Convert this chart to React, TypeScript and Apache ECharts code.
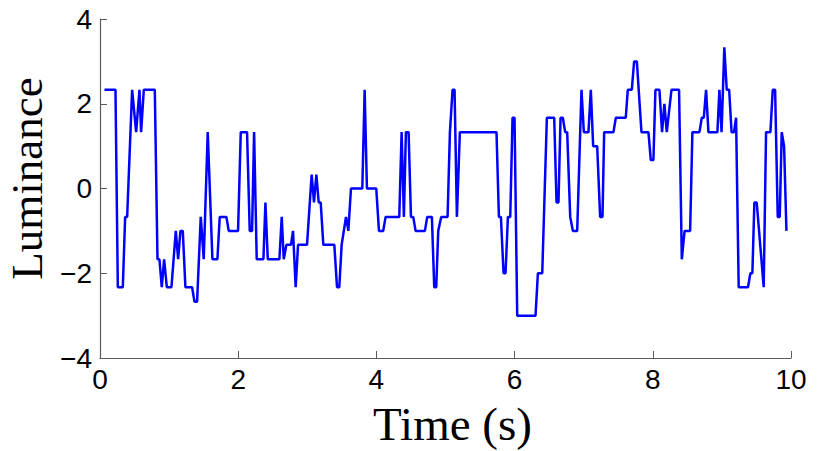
import React, { useEffect, useRef } from "react";
import * as echarts from "echarts";

const xTicks = [0, 2, 4, 6, 8, 10];
const yTicks = [-4, -2, 0, 2, 4];

const times = [
  0.065, 0.224, 0.258, 0.33, 0.364, 0.393, 0.465, 0.523, 0.571, 0.595, 0.634, 0.793, 0.832, 0.86, 0.894, 0.928, 0.967,
  1.034, 1.097, 1.131, 1.164, 1.198, 1.236, 1.333, 1.367, 1.405, 1.458, 1.501, 1.559, 1.627, 1.699, 1.733, 1.829, 1.863,
  1.998, 2.037, 2.128, 2.167, 2.201, 2.23, 2.268, 2.365, 2.394, 2.428,
  2.596, 2.63, 2.659, 2.697, 2.764, 2.793, 2.832, 2.866, 2.996, 3.063, 3.097, 3.131, 3.165, 3.194, 3.232, 3.391, 3.43,
  3.463, 3.497, 3.56, 3.594, 3.632, 3.796, 3.83, 3.863, 3.998, 4.037, 4.099, 4.133, 4.331, 4.365, 4.398, 4.427, 4.466,
  4.5, 4.533, 4.567, 4.702, 4.736, 4.803, 4.837,
  4.866, 4.895, 4.938, 5.03, 5.064, 5.102, 5.131, 5.165, 5.208, 5.738, 5.773, 5.802, 5.84, 5.869, 5.903, 5.937, 5.97,
  5.999, 6.038, 6.303, 6.337, 6.4, 6.467, 6.573, 6.607, 6.635, 6.665, 6.698, 6.732, 6.761, 6.805, 6.843, 6.906, 6.968,
  7.002, 7.069, 7.103, 7.137, 7.195, 7.238, 7.272,
  7.296, 7.431, 7.465, 7.609, 7.638, 7.696, 7.73, 7.769, 7.836, 7.937, 7.971, 8.009, 8.038, 8.096, 8.134, 8.168, 8.202,
  8.27, 8.38, 8.42, 8.46, 8.54, 8.573, 8.675, 8.709, 8.738, 8.771, 8.805, 8.935, 8.964, 8.995, 9.035, 9.07, 9.105, 9.14,
  9.176, 9.205, 9.243, 9.378, 9.412, 9.441, 9.47, 9.504, 9.605, 9.639, 9.702, 9.736, 9.77, 9.808, 9.837, 9.866, 9.9, 9.934,
];

const luminance = [
  2.33, 2.33, -2.33, -2.33, -0.67, -0.67, 2.33, 1.33, 2.33, 1.33, 2.33, 2.33, -1.67, -1.67, -2.33, -1.67, -2.33,
  -2.33, -1, -1.67, -1, -1, -2.33, -2.33, -2.67, -2.67, -0.67, -1.67, 1.33, -1.67, -1.67, -0.67, -0.67, -1,
  -1, 1.33, 1.33, -1, -1, 1.33, -1.67, -1.67, -0.33, -1.67,
  -1.67, -0.67, -1.67, -1.33, -1.33, -1, -2.33, -1.33, -1.33, 0.33, -0.33, 0.33, -0.33, -0.33, -1.33, -1.33, -2.33,
  -2.33, -1.33, -0.67, -1, 0, 0, 2.33, 0, 0, -1, -1, -0.67, -0.67, 1.33, -0.67, 1.33, 1.33,
  -0.67, -0.67, -1, -1, -0.67, -0.67, -2.33,
  -2.33, -1, -0.67, -0.67, 1.33, 2.33, 2.33, -0.67, 1.33, 1.33, -0.67, -0.67, -2, -2, -0.67, -0.67, 1.67,
  1.67, -3, -3, -2, -2, 1.67, 1.67, -0.33, -0.33, 1.67, 1.67, 1.33, 1.33, -0.67, -1, -1, 2.33,
  1.33, 1.33, 2.33, 1, 1, -0.67, -0.67,
  1.33, 1.33, 1.67, 1.67, 2.33, 2.33, 3, 3, 1.33, 1.33, 0.67, 0.67, 2.33, 2.33, 1.33, 2, 1.33,
  2.33, 2.33, -1.67, -1, -1, 1.33, 1.33, 1.67, 1.67, 2.33, 1.33, 1.33, 2.33, 1.33, 3.33, 2.33, 2.33, 1.33,
  1.33, 1.67, -2.33, -2.33, -2, -2, -0.33, -0.33, -2.33, 1.33, 1.33, 2.33, 2.33, -0.67, -0.67, 1.33, 1, -1,
];

const xTitle = "Time (s)";
const yTitle = "Luminance";

export default function App() {
  const ref = useRef<HTMLDivElement>(null);
  useEffect(() => {
    if (!ref.current) return;
    const chart = echarts.init(ref.current, undefined, { renderer: "svg" });
    const data = times.map((t, i) => [t, luminance[i]]);
    const axisColor = "#5a5a5a";
    chart.setOption({
      animation: false,
      backgroundColor: "#ffffff",
      grid: { left: 100, right: 28, top: 19, bottom: 93, outerBoundsMode: "none" },
      xAxis: {
        type: "value",
        min: xTicks[0],
        max: xTicks[xTicks.length - 1],
        interval: 2,
        name: xTitle,
        nameLocation: "middle",
        nameGap: 42,
        nameTextStyle: { fontFamily: "Liberation Serif", fontSize: 47, color: "#000", padding: [0, 0, 0, 14] },
        axisLine: { show: true, onZero: false, lineStyle: { color: axisColor, width: 1.2 } },
        axisTick: { show: true, inside: true, length: 7, lineStyle: { color: axisColor } },
        axisLabel: { margin: 7, fontFamily: "Liberation Sans", fontSize: 28, color: "#000" },
        splitLine: { show: false },
      },
      yAxis: {
        type: "value",
        min: yTicks[0],
        max: yTicks[yTicks.length - 1],
        interval: 2,
        name: yTitle,
        nameLocation: "middle",
        nameRotate: 90,
        nameGap: 45,
        nameTextStyle: { fontFamily: "Liberation Serif", fontSize: 45, color: "#000", padding: [0, 0, 0, 20] },
        axisLine: { show: true, onZero: false, lineStyle: { color: axisColor, width: 1.2 } },
        axisTick: { show: true, inside: true, length: 7, lineStyle: { color: axisColor } },
        axisLabel: {
          margin: 8,
          fontFamily: "Liberation Sans",
          fontSize: 28,
          color: "#000",
          formatter: (v: number) => String(v).replace("-", "\u2212"),
        },
        splitLine: { show: false },
      },
      series: [
        {
          type: "line",
          data,
          showSymbol: false,
          symbol: "none",
          lineStyle: { color: "#0000ff", width: 2.5 },
          z: 3,
        },
      ],
    });
    return () => chart.dispose();
  }, []);
  return (
    <div
      ref={ref}
      style={{ position: "absolute", left: 0, top: 0, width: 819, height: 451 }}
    />
  );
}
